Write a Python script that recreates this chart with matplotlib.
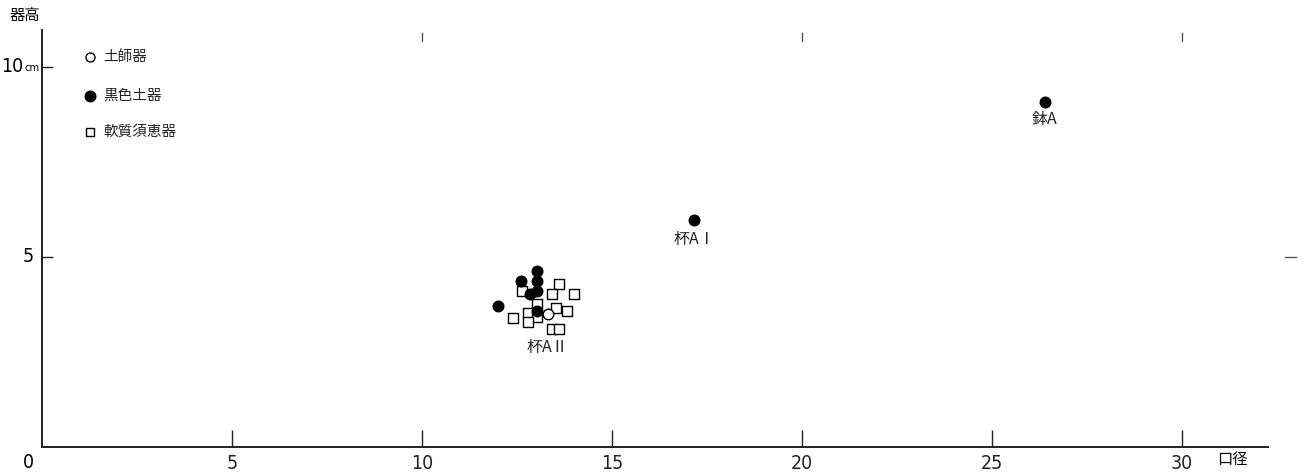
import matplotlib
matplotlib.use("Agg")
import matplotlib.pyplot as plt
from matplotlib import font_manager

plt.rcParams['font.family'] = ['Noto Sans CJK JP', 'DejaVu Sans']

# 土師器 (open circles)
hajiki_x = [13.32]
hajiki_y = [3.50]

# 黒色土器 (filled circles)
kokushoku_x = [13.03, 12.60, 13.03, 12.84, 13.03, 12.00, 13.03, 17.17, 26.39]
kokushoku_y = [4.63, 4.37, 4.37, 4.03, 4.10, 3.71, 3.58, 5.97, 9.09]

# 軟質須恵器 (open squares)
sueki_x = [13.61, 12.62, 13.41, 14.00, 13.02, 13.52, 13.81, 12.80, 13.02, 12.40, 12.80, 13.41, 13.61]
sueki_y = [4.29, 4.11, 4.03, 4.03, 3.76, 3.65, 3.59, 3.52, 3.43, 3.40, 3.30, 3.10, 3.10]

# group labels
group_labels = ['杯AⅡ', '杯AⅠ', '鉢A']
group_label_x = [13.29, 17.17, 26.39]
group_label_y = [2.62, 5.45, 8.62]

xticks = [5, 10, 15, 20, 25, 30]
yticks = [5, 10]

legend_names = ['土師器', '黒色土器', '軟質須恵器']

names = {f.name for f in font_manager.fontManager.ttflist}
if 'Liberation Sans Narrow' in names:
    NUM = dict(family=['Liberation Sans Narrow', 'DejaVu Sans'])
else:
    NUM = dict(family=['DejaVu Sans'], stretch='condensed')

fig = plt.figure(figsize=(13.03, 4.72), dpi=100)
ax = fig.add_axes([42/1303, 25/472, (1268-42)/1303, (447-30)/472])
ax.set_xlim(0, (1268-42)/38)
ax.set_ylim(0, (447-30)/38)

for s in ['top', 'right']:
    ax.spines[s].set_visible(False)
for s in ['left', 'bottom']:
    ax.spines[s].set_linewidth(1.4)
    ax.spines[s].set_color('#222222')

ax.scatter(sueki_x, sueki_y, marker='s', s=42, facecolors='white', edgecolors='black', linewidths=1.0, zorder=3)
ax.scatter(kokushoku_x, kokushoku_y, marker='o', s=58, facecolors='black', edgecolors='black', zorder=4)
ax.scatter(hajiki_x, hajiki_y, marker='o', s=58, facecolors='white', edgecolors='black', linewidths=1.0, zorder=4)

for t, x, y in zip(group_labels, group_label_x, group_label_y):
    ax.text(x, y, t, ha='center', va='center', fontsize=11.5, color='#222222')

ax.set_xticks(xticks)
ax.set_xticklabels([str(v) for v in xticks], fontsize=14, **NUM)
ax.tick_params(axis='x', direction='in', length=12, width=1.0, pad=5, colors='#222222')
ax.set_yticks(yticks)
ax.set_yticklabels([])
ax.tick_params(axis='y', direction='in', length=8, width=1.0, colors='#222222')

# y labels
ax.text(-0.21, 5, '5', ha='right', va='center', fontsize=14, **NUM)
ax.text(-0.46, 9.97, 'cm', ha='left', va='center', fontsize=8, **NUM)
ax.text(-0.50, 10, '10', ha='right', va='center', fontsize=14, **NUM)
ax.text(-0.37, -0.41, '0', ha='center', va='center', fontsize=14, clip_on=False, **NUM)
# axis titles
ax.text(30.92, -0.34, '口径', ha='left', va='center', fontsize=11, clip_on=False)
ax.text(-0.85, 11.35, '器高', ha='left', va='center', fontsize=11, clip_on=False)

# registration marks
for xm in [10, 20, 30]:
    ax.plot([xm, xm], [10.68, 10.89], color='#555555', lw=1.0, clip_on=False)
ax.plot([32.7, 33.0], [5, 5], color='#555555', lw=1.0, clip_on=False)

# legend (manual)
leg_y = [10.26, 9.24, 8.29]
ax.scatter([1.26], [leg_y[0]], marker='o', s=42, facecolors='white', edgecolors='black', linewidths=1.0)
ax.scatter([1.26], [leg_y[1]], marker='o', s=58, facecolors='black', edgecolors='black')
ax.scatter([1.26], [leg_y[2]], marker='s', s=30, facecolors='white', edgecolors='black', linewidths=1.0)
for name, y in zip(legend_names, leg_y):
    ax.text(1.62, y, name, ha='left', va='center', fontsize=10.5, color='#222222')

fig.savefig('out.png', dpi=100)
